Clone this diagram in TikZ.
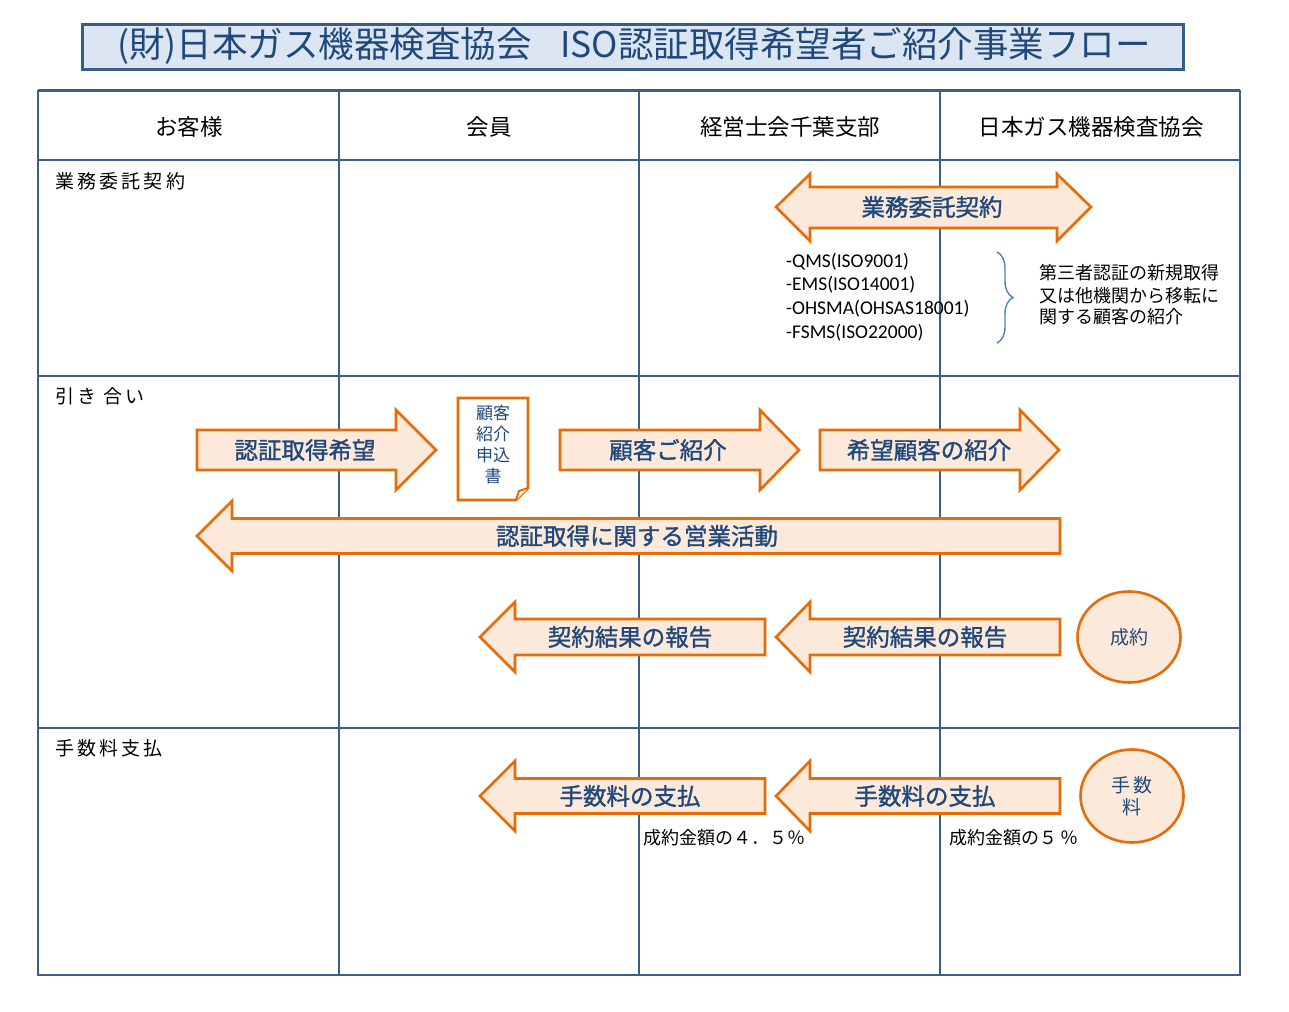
\documentclass[tikz,border=0pt]{standalone}
\usepackage{fontspec}
\setmainfont{Carlito}
\newfontfamily\jp{Noto Sans CJK JP}
\newfontfamily\jpm[FakeBold=1.3]{Noto Sans CJK JP}
\usetikzlibrary{decorations.pathreplacing,shapes.geometric}
\definecolor{gridc}{HTML}{3B5E8C}
\definecolor{titlef}{HTML}{DCE6F2}
\definecolor{titleb}{HTML}{385D8A}
\definecolor{arrf}{HTML}{FDE9D9}
\definecolor{arrb}{HTML}{E46C0A}
\definecolor{txtb}{HTML}{1F497D}
\definecolor{bracec}{HTML}{4F81BD}
\newcommand\fsz[1]{\fontsize{#1}{#1}\selectfont}
% right arrow: x-start, shaft-end, tip, center y, half body, half head
\newcommand\RArr[6]{\draw[farrow] (#1,#4-#5) -- (#2,#4-#5) -- (#2,#4-#6) -- (#3,#4) -- (#2,#4+#6) -- (#2,#4+#5) -- (#1,#4+#5) -- cycle;}
% left arrow: tip, head base, end x, center y, half body, half head
\newcommand\LArr[6]{\draw[farrow] (#1,#4) -- (#2,#4-#6) -- (#2,#4-#5) -- (#3,#4-#5) -- (#3,#4+#5) -- (#2,#4+#5) -- (#2,#4+#6) -- cycle;}
\begin{document}
\begin{tikzpicture}[x=1pt,y=-1pt,
  gridline/.style={draw=gridc,line width=2pt},
  farrow/.style={draw=arrb,fill=arrf,line width=2.6pt,line join=miter},
  arrtxt/.style={font=\jpm\fsz{23.5},text=txtb,inner sep=0pt},
  headtxt/.style={font=\jp\fsz{22.5},text=black,inner sep=0pt},
  rowtxt/.style={font=\jp\fsz{19},text=black,inner sep=0pt,anchor=west},
  smalltxt/.style={font=\jp\fsz{18},text=black,inner sep=0pt,anchor=west},
  listtxt/.style={font=\fsz{19.5},text=black,inner sep=0pt,anchor=west},
  circ/.style={ellipse,draw=arrb,fill=arrf,line width=2.6pt,inner sep=0pt,font=\jp\fsz{19},text=txtb,align=center}
]
\useasboundingbox[fill=white] (0,0) rectangle (1289,1011);

% title
\draw[draw=titleb,fill=titlef,line width=3pt] (82,25) rectangle (1183,70);
\node[font=\jp\fsz{35.5},text=txtb,inner sep=0pt] (title) at (634,46) {(財)日本ガス機器検査協会\hspace{0.8em}ISO認証取得希望者ご紹介事業フロー};

% grid
\draw[gridline] (38,91) rectangle (1240,975);
\draw[draw=gridc,line width=3pt] (38,91) -- (1240,91);
\foreach \xx in {339,639,940} \draw[gridline] (\xx,91) -- (\xx,975);
\foreach \yy in {160,376,728} \draw[gridline] (38,\yy) -- (1240,\yy);

% headers
\node[headtxt] (h1) at (189,127) {お客様};
\node[headtxt] (h2) at (489,127) {会員};
\node[headtxt] (h3) at (790,127) {経営士会千葉支部};
\node[headtxt] (h4) at (1091,127) {日本ガス機器検査協会};

% row labels
\node[rowtxt] (r1) at (55,181) {業\,務\,委\,託\,契\,約};
\node[rowtxt] (r2) at (55,396) {引\,き\hspace{0.35em}合\,い};
\node[rowtxt] (r3) at (55,748) {手\,数\,料\,支\,払};

% row 1: double arrow
\draw[farrow] (776,207) -- (810,174) -- (810,187) -- (1057,187) -- (1057,174) -- (1091,207) -- (1057,241) -- (1057,228) -- (810,228) -- (810,241) -- cycle;
\node[arrtxt] (a1) at (932,207) {業務委託契約};

\node[listtxt] (l1) at (786,262) {-QMS(ISO9001)};
\node[listtxt] (l2) at (786,285) {-EMS(ISO14001)};
\node[listtxt] (l3) at (786,309) {-OHSMA(OHSAS18001)};
\node[listtxt] (l4) at (786,333) {-FSMS(ISO22000)};

\coordinate (bt) at (997,252);
\coordinate (bb) at (997,343);
\draw[draw=bracec,line width=1.4pt,decorate,decoration={brace,amplitude=16pt,aspect=0.5}] (bt) -- (bb);
\node[smalltxt] (n1) at (1039,273) {第三者認証の新規取得};
\node[smalltxt] (n2) at (1039,296) {又は他機関から移転に};
\node[smalltxt] (n3) at (1039,317) {関する顧客の紹介};

% row 2
\RArr{197}{396}{436}{450}{20}{40}
\node[arrtxt] (a2) at (305,450) {認証取得希望};

\draw[draw=arrb,fill=white,line width=2.6pt,line join=miter] (458,398) -- (528,398) -- (528,488) -- (516,500) -- (458,500) -- cycle;
\draw[draw=arrb,fill=white,line width=2pt,line join=miter] (516,500) -- (519,491) -- (528,488);
\node[font=\jp\fsz{17},text=txtb,inner sep=0pt,align=center] (doc) at (493,445) {顧客\\[4pt]紹介\\[4pt]申込\\[4pt]書};

\RArr{560}{760}{799}{450}{20}{40}
\node[arrtxt] (a3) at (668,450) {顧客ご紹介};
\RArr{820}{1020}{1059}{450}{20}{40}
\node[arrtxt] (a4) at (929,450) {希望顧客の紹介};

\LArr{197}{232}{1060}{536}{17.5}{35}
\node[arrtxt] (a5) at (637,536) {認証取得に関する営業活動};

\LArr{480}{515}{765}{637}{18}{35}
\node[arrtxt] (a6) at (630,637) {契約結果の報告};
\LArr{776}{810}{1060}{637}{18}{35}
\node[arrtxt] (a7) at (925,637) {契約結果の報告};

\node[circ,minimum width=103pt,minimum height=91pt] (c1) at (1129,637) {成約};

% row 3
\LArr{480}{515}{765}{796}{17.5}{35}
\node[arrtxt] (a8) at (630,796) {手数料の支払};
\LArr{776}{810}{1060}{796}{17.5}{35}
\node[arrtxt] (a9) at (925,796) {手数料の支払};

\node[circ,minimum width=103pt,minimum height=93pt] (c2) at (1132,796) {手\,数\\[3pt]料};

\node[smalltxt] (f1) at (643,838) {成約金額の４．５％};
\node[smalltxt] (f2) at (949,838) {成約金額の５\,％};
\end{tikzpicture}
\end{document}
